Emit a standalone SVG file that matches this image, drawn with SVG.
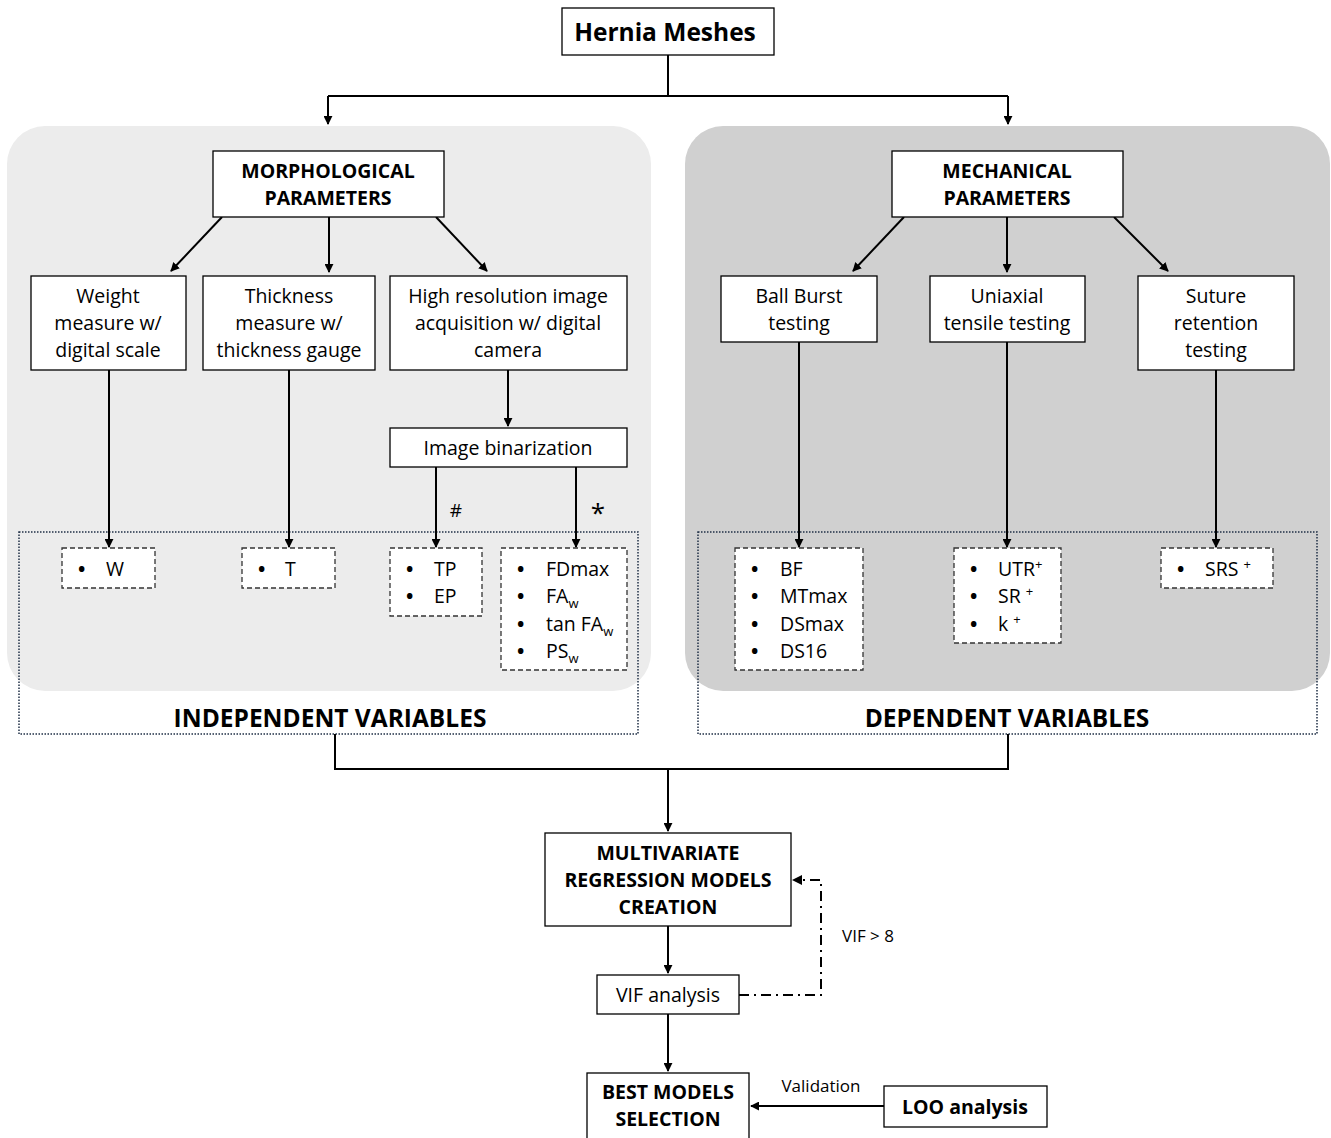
<svg xmlns="http://www.w3.org/2000/svg" width="1331" height="1138" viewBox="0 0 1331 1138">
<defs>
<marker id="ah" viewBox="0 0 10 10" refX="9" refY="5" markerWidth="9" markerHeight="9" markerUnits="userSpaceOnUse" orient="auto"><path d="M0,0 L10,5 L0,10 z" fill="#000"/></marker>
<style>
.box{fill:#fff;stroke:#000;stroke-width:1.3}
.dash{fill:#fff;stroke:#333;stroke-width:1.3;stroke-dasharray:5,3}
.dot{fill:none;stroke:#1f2f45;stroke-width:1.5;stroke-dasharray:1.5,1.5}
.t{font-family:"Open Sans","Liberation Sans",sans-serif;font-size:19.5px;fill:#000;text-anchor:middle}
.l{font-family:"Open Sans","Liberation Sans",sans-serif;font-size:19.5px;fill:#000}
.bl{font-weight:bold}
.b{font-family:"Open Sans","Liberation Sans",sans-serif;font-size:19.5px;font-weight:bold;fill:#000;text-anchor:middle}
.big{font-family:"Open Sans","Liberation Sans",sans-serif;font-size:24.5px;font-weight:bold;fill:#000;text-anchor:middle}
.c{fill:none;stroke:#000;stroke-width:2}
.sub{font-size:13px}
</style>
</defs>
<rect width="1331" height="1138" fill="#fff"/>
<rect x="7" y="126" width="644" height="565" rx="38" fill="#ececec"/>
<rect x="685" y="126" width="645" height="565" rx="38" fill="#d0d0d0"/>
<rect id="indep" class="dot" x="19" y="532" width="619" height="202"/>
<rect id="dep" class="dot" x="698" y="532" width="619" height="202"/>
<g id="connectors">
<path class="c" d="M668,55 V96 M328,96 H1008"/>
<path class="c" d="M328,96 V124" marker-end="url(#ah)"/>
<path class="c" d="M1008,96 V124" marker-end="url(#ah)"/>
<path class="c" d="M222,217 L171,271" marker-end="url(#ah)"/>
<path class="c" d="M329,217 V272" marker-end="url(#ah)"/>
<path class="c" d="M436,217 L487,271" marker-end="url(#ah)"/>
<path class="c" d="M904,217 L853,271" marker-end="url(#ah)"/>
<path class="c" d="M1007,217 V272" marker-end="url(#ah)"/>
<path class="c" d="M1114,217 L1168,271" marker-end="url(#ah)"/>
<path class="c" d="M508,370 V426" marker-end="url(#ah)"/>
<path class="c" d="M109,370 V547" marker-end="url(#ah)"/>
<path class="c" d="M289,370 V547" marker-end="url(#ah)"/>
<path class="c" d="M436,467 V547" marker-end="url(#ah)"/>
<path class="c" d="M576,467 V547" marker-end="url(#ah)"/>
<path class="c" d="M799,342 V547" marker-end="url(#ah)"/>
<path class="c" d="M1007,342 V547" marker-end="url(#ah)"/>
<path class="c" d="M1216,370 V547" marker-end="url(#ah)"/>
<path class="c" d="M335,734 V769 H1008 V734"/>
<path class="c" d="M668,769 V831" marker-end="url(#ah)"/>
<path class="c" d="M668,926 V973" marker-end="url(#ah)"/>
<path class="c" d="M668,1014 V1071" marker-end="url(#ah)"/>
<path fill="none" stroke="#000" stroke-width="2" stroke-dasharray="10,5,2,5" d="M739,995 H821 V880 H801"/>
<path d="M792,880 L802,875 L802,885 z" fill="#000"/>
<path class="c" d="M884,1106 H751" marker-end="url(#ah)"/>
<text class="t" x="456" y="517" style="font-size:19px">#</text>
<text class="t" x="598" y="522" style="font-size:26px">*</text>
<text class="l" x="842" y="942" style="font-size:17px">VIF &gt; 8</text>
<text class="t" x="821" y="1092" style="font-size:17px">Validation</text>
</g>
<g id="hernia"><rect class="box" x="562" y="8" width="212" height="47"/><text class="big" x="665" y="41">Hernia Meshes</text></g>
<g id="morph"><rect class="box" x="213" y="151" width="231" height="66"/><text class="b" x="328" y="178">MORPHOLOGICAL</text><text class="b" x="328" y="205">PARAMETERS</text></g>
<g id="mech"><rect class="box" x="892" y="151" width="231" height="66"/><text class="b" x="1007" y="178">MECHANICAL</text><text class="b" x="1007" y="205">PARAMETERS</text></g>
<g id="weight"><rect class="box" x="31" y="276" width="155" height="94"/><text class="t" x="108" y="303">Weight</text><text class="t" x="108" y="330">measure w/</text><text class="t" x="108" y="357">digital scale</text></g>
<g id="thick"><rect class="box" x="203" y="276" width="172" height="94"/><text class="t" x="289" y="303">Thickness</text><text class="t" x="289" y="330">measure w/</text><text class="t" x="289" y="357">thickness gauge</text></g>
<g id="hires"><rect class="box" x="390" y="276" width="237" height="94"/><text class="t" x="508" y="303">High resolution image</text><text class="t" x="508" y="330">acquisition w/ digital</text><text class="t" x="508" y="357">camera</text></g>
<g id="binar"><rect class="box" x="390" y="428" width="237" height="39"/><text class="t" x="508" y="455">Image binarization</text></g>
<g id="ball"><rect class="box" x="721" y="276" width="156" height="66"/><text class="t" x="799" y="303">Ball Burst</text><text class="t" x="799" y="330">testing</text></g>
<g id="uni"><rect class="box" x="930" y="276" width="155" height="66"/><text class="t" x="1007" y="303">Uniaxial</text><text class="t" x="1007" y="330">tensile testing</text></g>
<g id="suture"><rect class="box" x="1138" y="276" width="156" height="94"/><text class="t" x="1216" y="303">Suture</text><text class="t" x="1216" y="330">retention</text><text class="t" x="1216" y="357">testing</text></g>
<g id="vW"><rect class="dash" x="62" y="548" width="93" height="40"/><text class="l" y="576"><tspan class="bl" x="78">•</tspan><tspan x="106">W</tspan></text></g>
<g id="vT"><rect class="dash" x="242" y="548" width="93" height="40"/><text class="l" y="576"><tspan class="bl" x="258">•</tspan><tspan x="285">T</tspan></text></g>
<g id="vTP"><rect class="dash" x="390" y="548" width="92" height="68"/>
<text class="l" y="576"><tspan class="bl" x="406">•</tspan><tspan x="434">TP</tspan></text>
<text class="l" y="603"><tspan class="bl" x="406">•</tspan><tspan x="434">EP</tspan></text></g>
<g id="vFD"><rect class="dash" x="501" y="548" width="126" height="122"/>
<text class="l" y="576"><tspan class="bl" x="517">•</tspan><tspan x="546">FDmax</tspan></text>
<text class="l" y="603"><tspan class="bl" x="517">•</tspan><tspan x="546">FA</tspan><tspan class="sub" dy="5">w</tspan></text>
<text class="l" y="631"><tspan class="bl" x="517">•</tspan><tspan x="546">tan FA</tspan><tspan class="sub" dy="5">w</tspan></text>
<text class="l" y="658"><tspan class="bl" x="517">•</tspan><tspan x="546">PS</tspan><tspan class="sub" dy="5">w</tspan></text></g>
<g id="vBF"><rect class="dash" x="735" y="548" width="128" height="122"/>
<text class="l" y="576"><tspan class="bl" x="751">•</tspan><tspan x="780">BF</tspan></text>
<text class="l" y="603"><tspan class="bl" x="751">•</tspan><tspan x="780">MTmax</tspan></text>
<text class="l" y="631"><tspan class="bl" x="751">•</tspan><tspan x="780">DSmax</tspan></text>
<text class="l" y="658"><tspan class="bl" x="751">•</tspan><tspan x="780">DS16</tspan></text></g>
<g id="vUTR"><rect class="dash" x="954" y="548" width="107" height="95"/>
<text class="l" y="576"><tspan class="bl" x="970">•</tspan><tspan x="998">UTR</tspan><tspan class="sub" dy="-7">+</tspan></text>
<text class="l" y="603"><tspan class="bl" x="970">•</tspan><tspan x="998">SR </tspan><tspan class="sub" dy="-7">+</tspan></text>
<text class="l" y="631"><tspan class="bl" x="970">•</tspan><tspan x="998">k </tspan><tspan class="sub" dy="-7">+</tspan></text></g>
<g id="vSRS"><rect class="dash" x="1161" y="548" width="112" height="40"/><text class="l" y="576"><tspan class="bl" x="1177">•</tspan><tspan x="1205">SRS </tspan><tspan class="sub" dy="-7">+</tspan></text></g>
<text class="big" x="330" y="727">INDEPENDENT VARIABLES</text>
<text class="big" x="1007" y="727">DEPENDENT VARIABLES</text>
<g id="multi"><rect class="box" x="545" y="833" width="246" height="93"/><text class="b" x="668" y="860">MULTIVARIATE</text><text class="b" x="668" y="887">REGRESSION MODELS</text><text class="b" x="668" y="914">CREATION</text></g>
<g id="vif"><rect class="box" x="597" y="975" width="142" height="39"/><text class="t" x="668" y="1002">VIF analysis</text></g>
<g id="best"><rect class="box" x="587" y="1073" width="162" height="70"/><text class="b" x="668" y="1099">BEST MODELS</text><text class="b" x="668" y="1126">SELECTION</text></g>
<g id="loo"><rect class="box" x="884" y="1086" width="163" height="41"/><text class="b" x="965" y="1114">LOO analysis</text></g>
</svg>
